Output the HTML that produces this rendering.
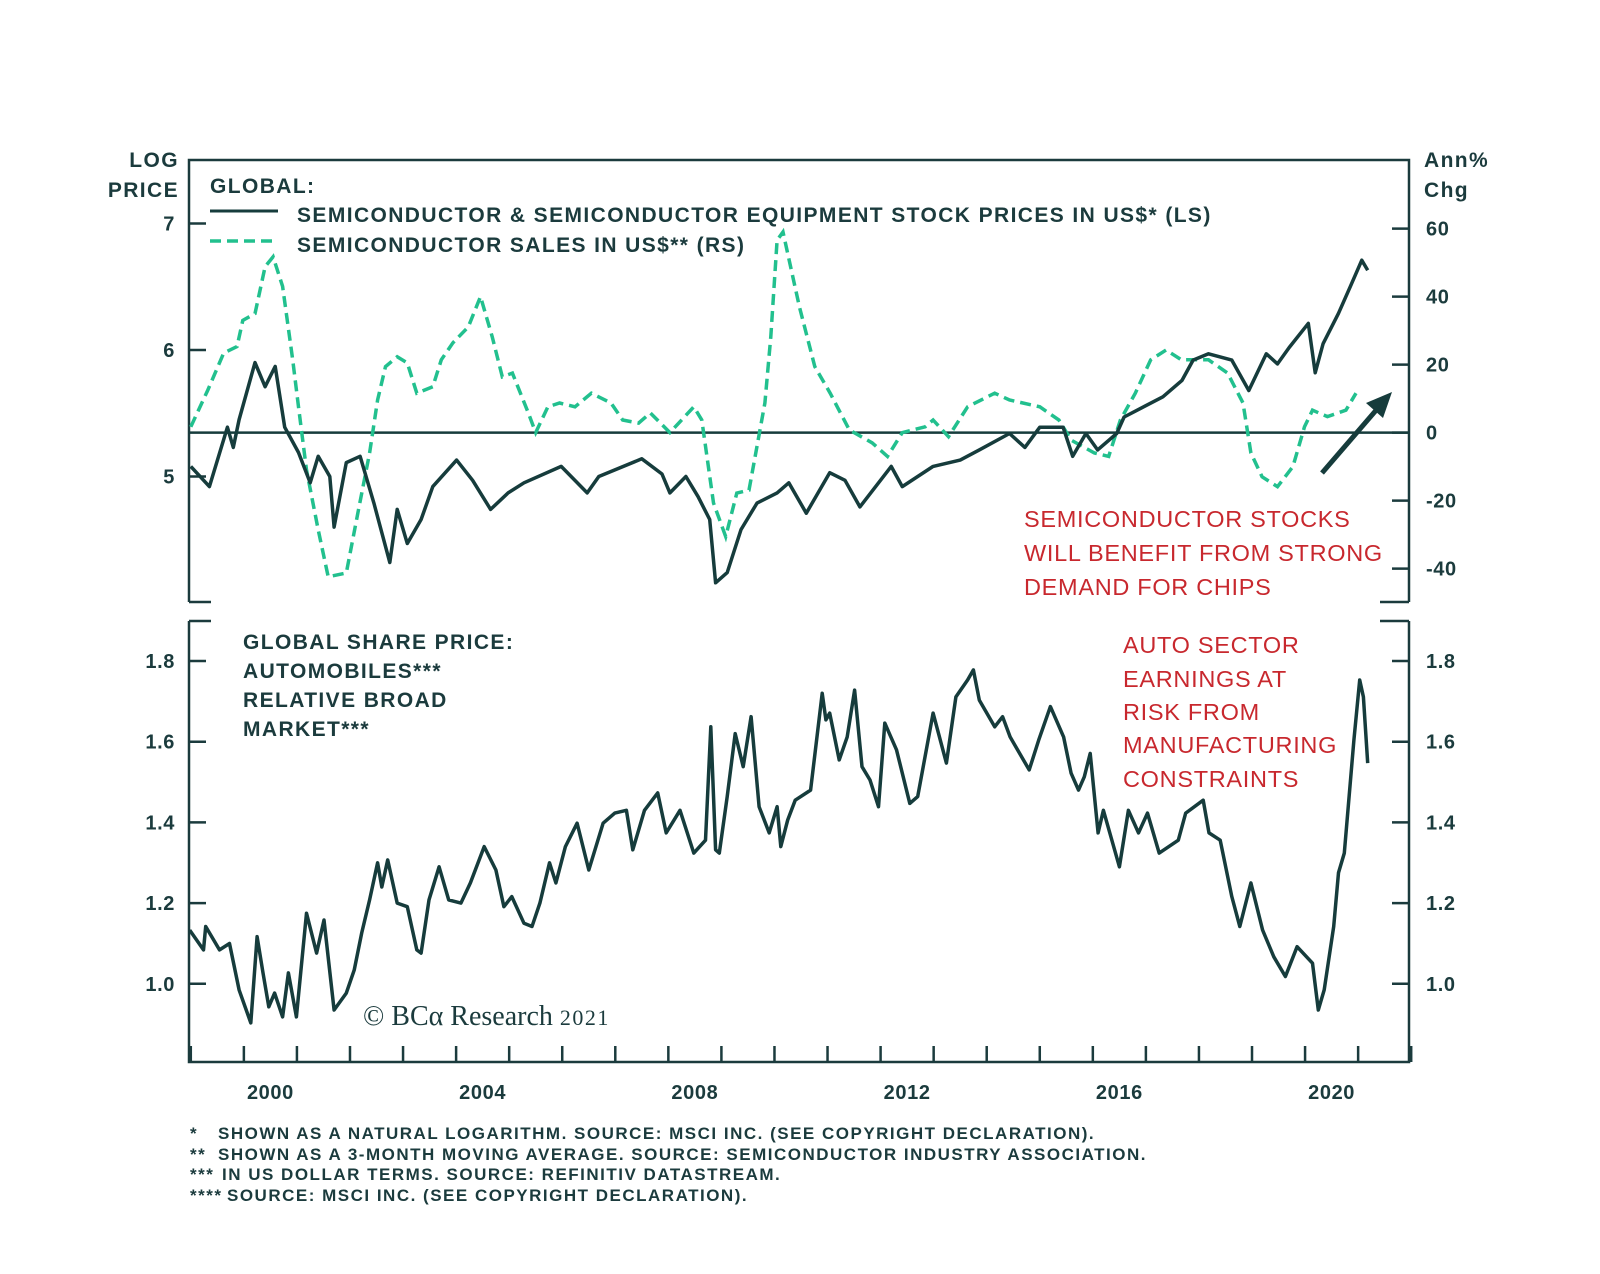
<!DOCTYPE html>
<html><head><meta charset="utf-8"><style>
body{margin:0;background:#fff;}
svg{display:block;font-family:"Liberation Sans",sans-serif;}
.t{fill:#1b3b3d;font-weight:bold;font-size:21px;letter-spacing:1.4px;}
.n{fill:#1b3b3d;font-weight:bold;font-size:20px;letter-spacing:0.6px;}
.r{fill:#c8282e;font-weight:normal;font-size:23.5px;letter-spacing:0.7px;}
.f{fill:#1b3b3d;font-weight:bold;font-size:17px;letter-spacing:1.5px;}
</style></head><body>
<svg id="c" width="1600" height="1274" viewBox="0 0 1600 1274">
<defs><clipPath id="cp1"><rect x="189" y="160" width="1220" height="442"/></clipPath>
<clipPath id="cp2"><rect x="189" y="621" width="1220" height="441"/></clipPath></defs>
<g id="frame" stroke="#1b3b3d" stroke-width="2.5" fill="none">
<path d="M189,602 V160 H1409 V602"/>
<path d="M189,602 H211 M1409,602 H1380"/>
<path d="M189,621 H211 M1409,621 H1380"/>
<path d="M189,621 V1062 H1409 V621"/>
</g>
<g id="ticks" stroke="#1b3b3d" stroke-width="2.5"></g>
<g id="labels"></g>
<g id="series"></g>
<text x="179" y="167" text-anchor="end" class="t">LOG</text>
<text x="179" y="197" text-anchor="end" class="t">PRICE</text>
<text x="1424" y="167" class="t">Ann%</text>
<text x="1424" y="197" class="t">Chg</text>
<g>
<text x="210" y="193" class="t">GLOBAL:</text>
<line x1="210" y1="211" x2="278" y2="211" stroke="#163c3c" stroke-width="3"/>
<text x="297" y="222" class="t">SEMICONDUCTOR &amp; SEMICONDUCTOR EQUIPMENT STOCK PRICES IN US$* (LS)</text>
<line x1="210" y1="241" x2="278" y2="241" stroke="#22c08e" stroke-width="3.5" stroke-dasharray="11,6"/>
<text x="297" y="252" class="t">SEMICONDUCTOR SALES IN US$** (RS)</text>
</g>
<g>
<text x="1024" y="527" class="r">SEMICONDUCTOR STOCKS</text>
<text x="1024" y="561" class="r">WILL BENEFIT FROM STRONG</text>
<text x="1024" y="595" class="r">DEMAND FOR CHIPS</text>
</g>
<g>
<text x="243" y="649" class="t">GLOBAL SHARE PRICE:</text>
<text x="243" y="678" class="t">AUTOMOBILES***</text>
<text x="243" y="707" class="t">RELATIVE BROAD</text>
<text x="243" y="736" class="t">MARKET***</text>
</g>
<g>
<text x="1123" y="653" class="r">AUTO SECTOR</text>
<text x="1123" y="687" class="r">EARNINGS AT</text>
<text x="1123" y="720" class="r">RISK FROM</text>
<text x="1123" y="753" class="r">MANUFACTURING</text>
<text x="1123" y="787" class="r">CONSTRAINTS</text>
</g>
<text x="363" y="1025" style="font-family:'Liberation Serif',serif;font-size:28px;fill:#1b3b3d">© BCα Research <tspan style="font-size:22px;letter-spacing:1.5px">2021</tspan></text>
<path d="M1322,473 L1378,408" stroke="#163c3c" stroke-width="5" fill="none"/>
<path d="M1392,392 L1366,403 L1383,418 Z" fill="#163c3c"/>
<g>
<text x="190" y="1139" class="f">*</text><text x="218" y="1139" class="f">SHOWN AS A NATURAL LOGARITHM. SOURCE: MSCI INC. (SEE COPYRIGHT DECLARATION).</text>
<text x="190" y="1160" class="f">**</text><text x="218" y="1160" class="f">SHOWN AS A 3-MONTH MOVING AVERAGE. SOURCE: SEMICONDUCTOR INDUSTRY ASSOCIATION.</text>
<text x="190" y="1180" class="f">***</text><text x="222" y="1180" class="f">IN US DOLLAR TERMS. SOURCE: REFINITIV DATASTREAM.</text>
<text x="190" y="1201" class="f">****</text><text x="227" y="1201" class="f">SOURCE: MSCI INC. (SEE COPYRIGHT DECLARATION).</text>
</g>
</svg>
<script>
const yearLabels=[2000,2004,2008,2012,2016,2020];
const leftTicks=[7,6,5];
const rightTicks=[60,40,20,0,-20,-40];
const bottomTicks=[1.8,1.6,1.4,1.2,1.0];
const stockT=[1999.0,1999.35,1999.69,1999.8,1999.91,2000.21,2000.4,2000.59,2000.77,2001.03,2001.25,2001.4,2001.62,2001.7,2001.93,2002.19,2002.45,2002.75,2002.89,2003.08,2003.34,2003.56,2004.01,2004.31,2004.65,2004.98,2005.28,2005.98,2006.47,2006.69,2007.5,2007.88,2008.03,2008.33,2008.56,2008.78,2008.89,2009.11,2009.37,2009.67,2010.05,2010.27,2010.6,2011.04,2011.33,2011.61,2012.2,2012.41,2012.99,2013.5,2013.86,2014.43,2014.72,2015.0,2015.44,2015.62,2015.87,2016.09,2016.45,2016.59,2017.32,2017.68,2017.89,2018.18,2018.62,2018.94,2019.27,2019.48,2019.7,2020.06,2020.19,2020.34,2020.63,2020.85,2021.07,2021.18];
const stockV=[5.08,4.92,5.39,5.23,5.45,5.90,5.71,5.87,5.39,5.19,4.95,5.16,5.0,4.60,5.11,5.16,4.79,4.32,4.74,4.47,4.66,4.92,5.13,4.97,4.74,4.87,4.95,5.08,4.87,5.0,5.14,5.02,4.87,5.0,4.84,4.66,4.16,4.24,4.58,4.79,4.87,4.95,4.71,5.03,4.97,4.76,5.08,4.92,5.08,5.13,5.21,5.34,5.23,5.39,5.39,5.16,5.34,5.21,5.34,5.47,5.63,5.76,5.92,5.97,5.92,5.68,5.97,5.89,6.02,6.21,5.82,6.05,6.29,6.50,6.71,6.63];
const salesT=[1999.0,1999.32,1999.62,1999.87,1999.98,2000.21,2000.4,2000.55,2000.73,2000.92,2001.03,2001.18,2001.4,2001.59,2001.93,2002.15,2002.37,2002.52,2002.67,2002.89,2003.08,2003.26,2003.56,2003.72,2003.94,2004.23,2004.46,2004.68,2004.87,2005.06,2005.36,2005.5,2005.73,2005.95,2006.24,2006.55,2006.92,2007.14,2007.44,2007.66,2008.03,2008.48,2008.63,2008.85,2009.08,2009.29,2009.52,2009.82,2009.93,2010.05,2010.16,2010.47,2010.76,2011.05,2011.41,2011.84,2012.13,2012.41,2012.84,2012.99,2013.28,2013.64,2014.15,2014.43,2015.0,2015.36,2015.59,2016.03,2016.3,2016.52,2016.8,2017.09,2017.38,2017.67,2018.18,2018.54,2018.83,2018.98,2019.19,2019.48,2019.77,2019.99,2020.14,2020.42,2020.77,2020.96];
const salesV=[1.7,12.5,23.4,25.3,33,35,48.8,51.7,43,21.4,7.6,-11,-28.6,-42.4,-41.3,-23.6,-6,9.6,19.4,22.3,20.5,11.6,13.5,21.4,26.4,31.1,40,28.2,16.4,17.5,5.8,0,7.6,8.7,7.6,11.6,8.7,3.7,2.8,5.8,0,7.6,3.7,-20.7,-30.6,-17.8,-16.9,8.7,28.2,56.6,59,37,19.4,11.6,0.8,-3,-7,0,1.7,3.7,-1.2,7.6,11.6,9.6,7.6,3.7,-2.2,-6,-7,3.7,11.6,21.4,24.3,21.4,21.4,17.5,8.7,-6,-13,-15.9,-10,1.7,6.6,4.7,6.6,11.6];
const autoT=[1998.98,1999.24,1999.28,1999.54,1999.73,1999.91,2000.13,2000.25,2000.36,2000.47,2000.58,2000.73,2000.84,2000.99,2001.18,2001.37,2001.51,2001.7,2001.93,2002.08,2002.22,2002.37,2002.52,2002.6,2002.71,2002.89,2003.08,2003.26,2003.34,2003.49,2003.68,2003.86,2004.09,2004.27,2004.53,2004.75,2004.9,2005.05,2005.28,2005.43,2005.58,2005.76,2005.88,2006.06,2006.28,2006.5,2006.77,2006.99,2007.21,2007.33,2007.55,2007.8,2007.96,2008.22,2008.48,2008.7,2008.8,2008.89,2008.96,2009.11,2009.26,2009.41,2009.56,2009.71,2009.9,2010.05,2010.12,2010.25,2010.39,2010.68,2010.9,2010.97,2011.04,2011.22,2011.37,2011.51,2011.65,2011.8,2011.96,2012.08,2012.3,2012.55,2012.7,2012.99,2013.24,2013.42,2013.64,2013.75,2013.86,2014.15,2014.3,2014.44,2014.8,2014.98,2015.2,2015.45,2015.59,2015.73,2015.84,2015.95,2016.1,2016.2,2016.5,2016.67,2016.86,2017.03,2017.25,2017.61,2017.75,2018.08,2018.19,2018.4,2018.62,2018.77,2018.98,2019.2,2019.41,2019.63,2019.85,2020.14,2020.25,2020.36,2020.54,2020.63,2020.74,2020.92,2021.03,2021.1,2021.18];
const autoV=[1.133,1.084,1.142,1.084,1.10,0.985,0.903,1.117,1.027,0.943,0.977,0.918,1.027,0.918,1.175,1.076,1.158,0.935,0.977,1.034,1.126,1.208,1.30,1.24,1.307,1.20,1.191,1.084,1.076,1.208,1.29,1.208,1.20,1.25,1.34,1.282,1.191,1.216,1.15,1.142,1.20,1.30,1.25,1.34,1.398,1.282,1.398,1.423,1.43,1.332,1.43,1.473,1.374,1.43,1.324,1.356,1.637,1.332,1.324,1.464,1.62,1.538,1.662,1.439,1.374,1.439,1.34,1.406,1.455,1.48,1.72,1.654,1.671,1.555,1.612,1.728,1.538,1.505,1.439,1.646,1.58,1.447,1.464,1.671,1.547,1.711,1.753,1.778,1.703,1.637,1.662,1.612,1.53,1.604,1.687,1.612,1.522,1.48,1.513,1.571,1.374,1.43,1.29,1.43,1.374,1.423,1.324,1.356,1.423,1.455,1.374,1.356,1.216,1.142,1.25,1.133,1.067,1.018,1.092,1.051,0.935,0.985,1.142,1.275,1.324,1.604,1.753,1.711,1.547];

const NS='http://www.w3.org/2000/svg';
const xs=t=>270.4+(t-2000.5)*53.06;
const yL=v=>350-(v-6)*126.5;
const yR=r=>432.6-r*3.4;
const yB=v=>661+(1.8-v)*403.5;
function mk(tag,attrs,parent){const e=document.createElementNS(NS,tag);for(const k in attrs)e.setAttribute(k,attrs[k]);parent.appendChild(e);return e;}
const ticks=document.getElementById('ticks'),labels=document.getElementById('labels'),series=document.getElementById('series');
leftTicks.forEach(v=>{
 const l=mk('line',{x1:189,x2:206,y1:yL(v),y2:yL(v)},ticks);
 
 
 const t=mk('text',{x:175,y:yL(v)+7,'text-anchor':'end',class:'n'},labels);t.textContent=v;
 
 
});
rightTicks.forEach(v=>{
 const l=mk('line',{x1:1392,x2:1409,y1:yR(v),y2:yR(v)},ticks);
 
 
 const t=mk('text',{x:1426,y:yR(v)+7,class:'n'},labels);t.textContent=v;
 
 
});
bottomTicks.forEach(v=>{
 const l=mk('line',{x1:189,x2:206,y1:yB(v),y2:yB(v)},ticks);
 
 
 const l2=mk('line',{x1:1392,x2:1409,y1:yB(v),y2:yB(v)},ticks);
 
 
 const s=v.toFixed(1);
 const t=mk('text',{x:175,y:yB(v)+7,'text-anchor':'end',class:'n'},labels);t.textContent=s;
 
 
 const t2=mk('text',{x:1426,y:yB(v)+7,class:'n'},labels);t2.textContent=s;
 
 
});
for(let y=1999;y<=2022;y++){
 const l=mk('line',{x1:xs(y),x2:xs(y),y1:1062,y2:1046},ticks);
 
 
}
yearLabels.forEach(y=>{
 const t=mk('text',{x:xs(y+0.5),y:1099,'text-anchor':'middle',class:'n'},labels);t.textContent=y;
 
 
});
const zl=mk('line',{x1:189,x2:1409,y1:yR(0),y2:yR(0),stroke:'#163c3c','stroke-width':2.5},series);


function path(T,V,fy){return T.map((t,i)=>(i?'L':'M')+xs(t).toFixed(1)+','+fy(V[i]).toFixed(1)).join(' ');}
const g1=mk('g',{'clip-path':'url(#cp1)'},series);
const sp=mk('path',{d:path(salesT,salesV,yR),fill:'none',stroke:'#22c08e','stroke-width':3.5,'stroke-dasharray':'11,6'},g1);


const st=mk('path',{d:path(stockT,stockV,yL),fill:'none',stroke:'#163c3c','stroke-width':3.5,'stroke-linejoin':'round'},g1);


const g2=mk('g',{'clip-path':'url(#cp2)'},series);
const au=mk('path',{d:path(autoT,autoV,yB),fill:'none',stroke:'#163c3c','stroke-width':3.5,'stroke-linejoin':'round'},g2);


</script>
</body></html>
